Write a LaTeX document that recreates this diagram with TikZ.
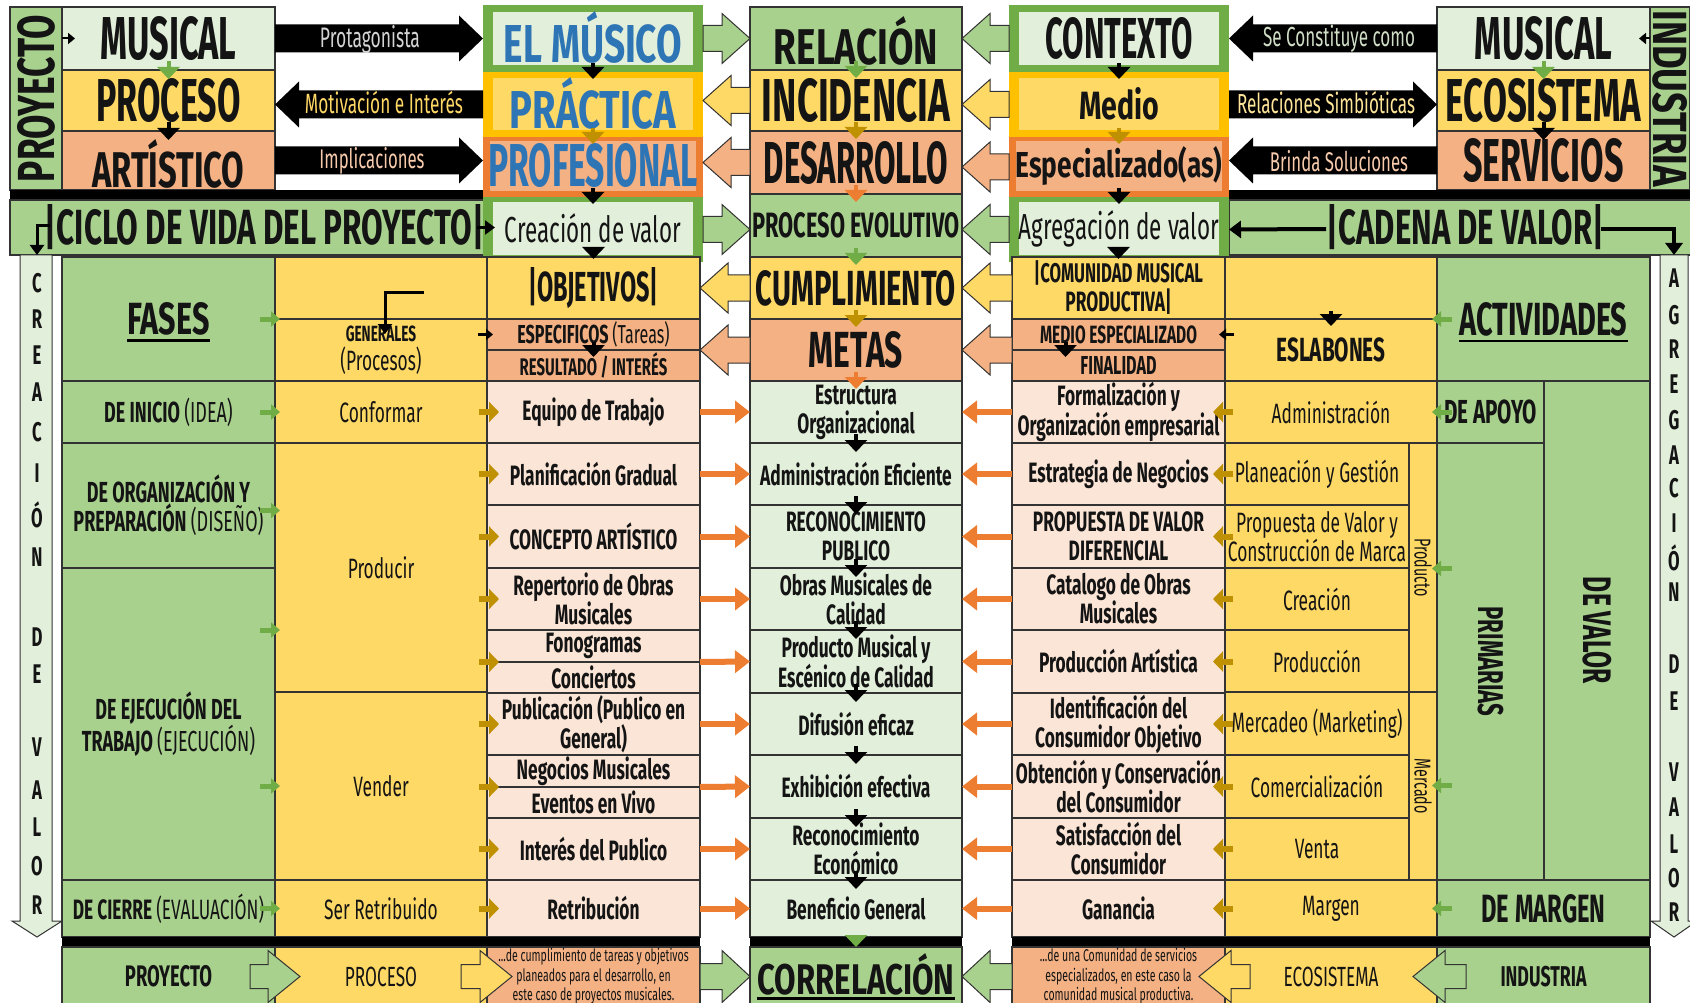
\documentclass[tikz,border=0pt]{standalone}
\usepackage{fontspec}
\usepackage{graphicx}
\setmainfont{Fira Sans}
\newfontfamily\cf{Fira Sans}[FakeStretch=0.62]
\newfontfamily\hd{Fira Sans}[FakeStretch=0.55]
\usetikzlibrary{arrows.meta,calc}
\definecolor{gr}{HTML}{A9D18E}
\definecolor{lgr}{HTML}{E2EFDA}
\definecolor{yl}{HTML}{FFD966}
\definecolor{sal}{HTML}{F4B183}
\definecolor{lpk}{HTML}{FBE5D6}
\definecolor{dgr}{HTML}{70AD47}
\definecolor{org}{HTML}{ED7D31}
\definecolor{gold}{HTML}{FFC000}
\definecolor{olv}{HTML}{BF9000}
\definecolor{blu}{HTML}{2E75B6}
\definecolor{bd}{HTML}{333333}
\definecolor{tk}{HTML}{141414}
\definecolor{ca}{HTML}{D4D4D4}
\definecolor{cb}{HTML}{FFD966}
\definecolor{cc}{HTML}{F8CBAD}
\definecolor{cd}{HTML}{D0DEC6}
\definecolor{ce}{HTML}{FFE699}
\newcommand\fw[2]{\resizebox{#1pt}{!}{#2}}
\newcommand\fwh[3]{\resizebox{#1pt}{#2pt}{#3}}
\tikzset{
 cell/.style={draw=bd,line width=1.1pt,inner sep=0pt,outer sep=0pt},
 nob/.style={inner sep=0pt,outer sep=0pt},
 txt/.style={align=center,inner sep=0pt,outer sep=0pt,text=tk},
 ct/.style={font=\cf\bfseries\fontsize{28}{29}\selectfont},
 cr/.style={font=\cf\fontsize{28}{29}\selectfont},
 cg/.style={font=\cf\bfseries\fontsize{29}{29}\selectfont},
 gar/.style={fill=gr,draw=bd,line width=1pt},
 yar/.style={fill=yl,draw=bd,line width=1pt},
 sar/.style={fill=sal,draw=bd,line width=1pt},
 kar/.style={fill=black},
 dn/.style={draw=#1,line width=4pt,-{Triangle[width=22pt,length=12pt]}},
 oar/.style={draw=org,line width=6pt,-{Triangle[width=22pt,length=15pt]}},
 olar/.style={draw=olv,line width=6pt,-{Triangle[width=20pt,length=10pt]}},
 gsar/.style={draw=dgr,line width=5pt,-{Triangle[width=15pt,length=9pt]}},
 sk/.style={draw=black,line width=2pt,-{Triangle[width=11pt,length=7pt]}},
 bkt/.style={draw=black,line width=3pt,-{Triangle[width=14pt,length=10pt]}},
 bkf/.style={draw=black,line width=4pt,-{Triangle[width=17pt,length=12pt]}},
 stl/.style={inner sep=0pt,text=tk,font=\cf\bfseries\fontsize{27}{27}\selectfont},
 lbl/.style={inner sep=0pt,outer sep=0pt},
}
\newcommand\bx[8][]{%
 \node[#7,anchor=north west,minimum width={#5pt-#3pt},minimum height={#6pt-#4pt}] (#2) at (#3,#4) {};%
 \node[txt,#1] (#2t) at (#2.center) {#8};}
\newcommand\blk[6]{%
 \path[#1] let \p1=(#2), \p2=(#3) in
  ({\x1},{\y1+#5pt}) -- ({\x2-(#6pt)},{\y1+#5pt}) -- ({\x2-(#6pt)},{\y1+#4pt}) -- ({\x2},{\y1})
  -- ({\x2-(#6pt)},{\y1-#4pt}) -- ({\x2-(#6pt)},{\y1-#5pt}) -- ({\x1},{\y1-#5pt}) -- cycle;}
\begin{document}
\begin{tikzpicture}[x=1pt,y=-1pt]
\useasboundingbox (0,0) rectangle (1690,1003);
\fill[white] (0,0) rectangle (1690,1003);

% ===== top left =====
\bx[rotate=90]{proy}{10}{7}{62}{190}{cell,fill=gr}{\fwh{167}{37}{\cf\bfseries PROYECTO}}
\bx{musL}{62}{7}{275}{70}{cell,fill=lgr}{\fwh{136}{43}{\hd\bfseries MUSICAL}}
\bx{procL}{62}{70}{275}{131}{cell,fill=yl}{\fwh{144}{43}{\hd\bfseries PROCESO}}
\bx[yshift=-3pt]{artL}{62}{131}{275}{190}{cell,fill=sal}{\fwh{152}{48}{\hd\bfseries ARTÍSTICO}}
\bx{barTL}{10}{190}{483}{200}{nob,fill=black}{}
\bx[xshift=16pt]{ciclo}{10}{200}{487}{255}{cell,fill=gr}{\fwh{439}{40}{\hd\bfseries |CICLO DE VIDA DEL PROYECTO|}}

% ===== top right =====
\bx{musR}{1437}{7}{1650}{70}{cell,fill=lgr}{\fwh{137}{43}{\hd\bfseries MUSICAL}}
\bx{ecoR}{1437}{70}{1650}{131}{cell,fill=yl}{\fwh{195}{43}{\hd\bfseries ECOSISTEMA}}
\bx{serR}{1437}{131}{1650}{190}{cell,fill=sal}{\fwh{160}{43}{\hd\bfseries SERVICIOS}}
\bx[rotate=-90]{indu}{1650}{7}{1690}{190}{cell,fill=gr}{\fwh{176}{34}{\cf\bfseries INDUSTRIA}}
\bx{barTR}{1229}{190}{1702}{200}{nob,fill=black}{}
\bx{cad}{1229}{200}{1702}{255}{cell,fill=gr}{\fwh{277}{40}{\hd\bfseries |CADENA DE VALOR|}}

% ===== centre-left column (framed) =====
\bx{musF}{483}{5}{703}{72}{nob,fill=dgr}{}
\bx[text=blu,yshift=1pt]{musI}{493}{12}{693}{65}{nob,fill=lgr}{\fwh{178}{51}{\hd\bfseries EL MÚSICO}}
\bx{prcF}{483}{72}{703}{137}{nob,fill=gold}{}
\bx[text=blu,yshift=1pt]{prcI}{493}{78}{693}{130}{nob,fill=yl}{\fwh{166}{51}{\hd\bfseries PRÁCTICA}}
\bx{prfF}{483}{137}{703}{197}{nob,fill=org}{}
\bx[text=blu]{prfI}{490}{141}{696}{191}{nob,fill=sal}{\fwh{209}{43}{\hd\bfseries PROFESIONAL}}
\bx{creF}{483}{197}{703}{262}{nob,fill=dgr}{}
\bx{creI}{493}{202}{693}{255}{nob,fill=lgr}{\fw{176}{\cf Creación de valor}}

% ===== centre column top =====
\bx[yshift=-2pt]{rel}{750}{7}{962}{70}{cell,fill=gr}{\fwh{164}{48}{\hd\bfseries RELACIÓN}}
\bx{inc}{750}{70}{962}{131}{cell,fill=yl}{\fwh{188}{43}{\hd\bfseries INCIDENCIA}}
\bx{des}{750}{131}{962}{194}{cell,fill=sal}{\fwh{184}{42}{\hd\bfseries DESARROLLO}}
\bx{pev}{750}{194}{962}{257}{cell,fill=gr}{\fwh{207}{25}{\hd\bfseries PROCESO EVOLUTIVO}}

% ===== centre-right column (framed) =====
\bx{conF}{1009}{5}{1229}{72}{nob,fill=dgr}{}
\bx{conI}{1019}{12}{1219}{65}{nob,fill=lgr}{\fwh{147}{41}{\hd\bfseries CONTEXTO}}
\bx{medF}{1009}{72}{1229}{137}{nob,fill=gold}{}
\bx{medI}{1019}{78}{1219}{130}{nob,fill=yl}{\fwh{80}{32}{\hd\bfseries Medio}}
\bx{espF}{1009}{137}{1229}{197}{nob,fill=org}{}
\bx{espI}{1016}{141}{1222}{191}{nob,fill=sal}{\fwh{207}{31}{\hd\bfseries Especializado(as)}}
\bx{agrF}{1009}{197}{1229}{262}{nob,fill=dgr}{}
\bx{agrI}{1019}{202}{1219}{255}{nob,fill=lgr}{\fw{200}{\cf Agregación de valor}}

% ===== strips =====
\path[draw=bd,fill=lgr,line width=1pt] (20,255) -- (52,255) -- (52,921) -- (62,921) -- (37,937) -- (12,921) -- (20,921) -- cycle;
\coordinate (creaTop) at (37,255);
\foreach \l/\yy [count=\i] in {C/283,R/319,E/355,A/392,C/432,I/473,Ó/515,N/557,D/637,E/674,V/747,A/790,L/827,O/866,R/905}
  \node[stl] (cl\i) at (37,\yy) {\l};
\path[draw=bd,fill=lgr,line width=1pt] (1660,255) -- (1688,255) -- (1688,921) -- (1697,921) -- (1674,937) -- (1651,921) -- (1660,921) -- cycle;
\coordinate (agTop) at (1674,255);
\foreach \l/\yy [count=\i] in {A/278,G/315,R/349,E/384,G/420,A/455,C/488,I/523,Ó/558,N/592,D/664,E/701,V/772,A/807,L/844,O/878,R/912}
  \node[stl] (al\i) at (1674,\yy) {\l};

% ===== lower left: fases =====
\bx{fases}{62}{257}{275}{381}{cell,fill=gr}{\fwh{82}{32}{\hd\bfseries FASES}}
\bx[cg]{ini}{62}{381}{275}{443}{cell,fill=gr}{DE INICIO \mdseries(IDEA)}
\bx[cg]{orgz}{62}{443}{275}{568}{cell,fill=gr}{DE ORGANIZACIÓN Y\\PREPARACIÓN \mdseries(DISEÑO)}
\bx[cg]{ejec}{62}{568}{275}{880}{cell,fill=gr}{DE EJECUCIÓN DEL\\TRABAJO \mdseries(EJECUCIÓN)}
\bx[ct]{cier}{62}{880}{275}{937}{cell,fill=gr}{DE CIERRE \mdseries(EVALUACIÓN)}

% yellow
\bx{ytop}{275}{257}{487}{319}{cell,fill=yl}{}
\bx[ct]{gen}{275}{319}{487}{381}{cell,fill=yl}{\fontsize{22}{28}\selectfont GENERALES\\\mdseries(Procesos)}
\bx[cr]{conf}{275}{381}{487}{443}{cell,fill=yl}{Conformar}
\bx[cr]{prodc}{275}{443}{487}{692}{cell,fill=yl}{Producir}
\bx[cr]{vend}{275}{692}{487}{880}{cell,fill=yl}{Vender}
\bx[cr]{seret}{275}{880}{487}{937}{cell,fill=yl}{Ser Retribuido}

% orange (left)
\bx{obj}{487}{257}{700}{319}{cell,fill=yl}{\fwh{130}{34}{\hd\bfseries |OBJETIVOS|}}
\bx[ct]{espc}{487}{319}{700}{350}{cell,fill=sal}{\fontsize{26}{26}\selectfont ESPECIFICOS \mdseries(Tareas)}
\bx[ct]{resu}{487}{350}{700}{381}{cell,fill=sal}{\fontsize{24}{24}\selectfont RESULTADO / INTERÉS}
\bx[ct]{equ}{487}{381}{700}{443}{cell,fill=lpk}{Equipo de Trabajo}
\bx[ct]{plan}{487}{443}{700}{505}{cell,fill=lpk}{Planificación Gradual}
\bx[ct]{conc}{487}{505}{700}{568}{cell,fill=lpk}{CONCEPTO ARTÍSTICO}
\bx[ct]{rep}{487}{568}{700}{630}{cell,fill=lpk}{Repertorio de Obras\\Musicales}
\bx[ct]{fono}{487}{630}{700}{662}{cell,fill=lpk}{Fonogramas}
\bx[ct]{conci}{487}{662}{700}{693}{cell,fill=lpk}{Conciertos}
\bx[ct]{pub}{487}{693}{700}{755}{cell,fill=lpk}{Publicación (Publico en\\General)}
\bx[ct]{neg}{487}{755}{700}{787}{cell,fill=lpk}{Negocios Musicales}
\bx[ct]{evt}{487}{787}{700}{818}{cell,fill=lpk}{Eventos en Vivo}
\bx[ct]{intp}{487}{818}{700}{880}{cell,fill=lpk}{Interés del Publico}
\bx[ct]{retr}{487}{880}{700}{937}{cell,fill=lpk}{Retribución}

% centre
\bx{cump}{750}{257}{962}{319}{cell,fill=yl}{\fwh{200}{35}{\hd\bfseries CUMPLIMIENTO}}
\bx{metas}{750}{319}{962}{381}{cell,fill=sal}{\fwh{94}{36}{\hd\bfseries METAS}}
\bx[ct]{estr}{750}{381}{962}{443}{cell,fill=lgr}{Estructura\\Organizacional}
\bx[ct]{adme}{750}{443}{962}{505}{cell,fill=lgr}{Administración Eficiente}
\bx[ct]{recp}{750}{505}{962}{568}{cell,fill=lgr}{RECONOCIMIENTO\\PUBLICO}
\bx[ct]{obrc}{750}{568}{962}{630}{cell,fill=lgr}{Obras Musicales de\\Calidad}
\bx[ct]{prmu}{750}{630}{962}{693}{cell,fill=lgr}{Producto Musical y\\Escénico de Calidad}
\bx[ct]{dife}{750}{693}{962}{755}{cell,fill=lgr}{Difusión eficaz}
\bx[ct]{exhi}{750}{755}{962}{818}{cell,fill=lgr}{Exhibición efectiva}
\bx[ct]{reco}{750}{818}{962}{880}{cell,fill=lgr}{Reconocimiento\\Económico}
\bx[ct]{bene}{750}{880}{962}{937}{cell,fill=lgr}{Beneficio General}

% orange (right)
\bx[ct]{comu}{1012}{257}{1225}{319}{cell,fill=yl}{\fontsize{27}{31}\selectfont |COMUNIDAD MUSICAL\\PRODUCTIVA|}
\bx[ct]{medi}{1012}{319}{1225}{350}{cell,fill=sal}{\fontsize{25}{25}\selectfont MEDIO ESPECIALIZADO}
\bx[ct]{fina}{1012}{350}{1225}{381}{cell,fill=sal}{\fontsize{26}{26}\selectfont FINALIDAD}
\bx[ct]{form}{1012}{381}{1225}{443}{cell,fill=lpk}{Formalización y\\Organización empresarial}
\bx[ct]{estn}{1012}{443}{1225}{505}{cell,fill=lpk}{Estrategia de Negocios}
\bx[ct]{prop}{1012}{505}{1225}{568}{cell,fill=lpk}{PROPUESTA DE VALOR\\DIFERENCIAL}
\bx[ct]{cata}{1012}{568}{1225}{630}{cell,fill=lpk}{Catalogo de Obras\\Musicales}
\bx[ct]{proa}{1012}{630}{1225}{693}{cell,fill=lpk}{Producción Artística}
\bx[ct]{iden}{1012}{693}{1225}{755}{cell,fill=lpk}{Identificación del\\Consumidor Objetivo}
\bx[ct]{obte}{1012}{755}{1225}{818}{cell,fill=lpk}{Obtención y Conservación\\del Consumidor}
\bx[ct]{sati}{1012}{818}{1225}{880}{cell,fill=lpk}{Satisfacción del\\Consumidor}
\bx[ct]{gana}{1012}{880}{1225}{937}{cell,fill=lpk}{Ganancia}

% yellow (right)
\bx{ytopR}{1225}{257}{1437}{319}{cell,fill=yl}{}
\bx{esla}{1225}{319}{1437}{381}{cell,fill=yl}{\fw{109}{\cf\bfseries ESLABONES}}
\bx[cr]{admi}{1225}{381}{1437}{443}{cell,fill=yl}{Administración}
\bx[cr]{plag}{1225}{443}{1409}{505}{cell,fill=yl}{Planeación y Gestión}
\bx[cr]{prvc}{1225}{505}{1409}{568}{cell,fill=yl}{Propuesta de Valor y\\Construcción de Marca}
\bx[cr]{crea}{1225}{568}{1409}{630}{cell,fill=yl}{Creación}
\bx[cr]{prdn}{1225}{630}{1409}{692}{cell,fill=yl}{Producción}
\bx[cr]{merc}{1225}{692}{1409}{755}{cell,fill=yl}{Mercadeo (Marketing)}
\bx[cr]{come}{1225}{755}{1409}{818}{cell,fill=yl}{Comercialización}
\bx[cr]{vent}{1225}{818}{1409}{880}{cell,fill=yl}{Venta}
\bx[cr]{marg}{1225}{880}{1437}{937}{cell,fill=yl}{Margen}
\bx[cr,rotate=-90]{prdo}{1409}{443}{1437}{692}{cell,fill=yl}{\fontsize{23}{23}\selectfont Producto}
\bx[cr,rotate=-90]{mrcd}{1409}{692}{1437}{880}{cell,fill=yl}{\fontsize{23}{23}\selectfont Mercado}

% green (right)
\bx{acti}{1437}{257}{1650}{381}{cell,fill=gr}{\fwh{168}{33}{\hd\bfseries ACTIVIDADES}}
\bx{apoy}{1437}{381}{1544}{443}{cell,fill=gr}{\fw{93}{\cf\bfseries DE APOYO}}
\bx[rotate=-90]{prim}{1437}{443}{1544}{880}{cell,fill=gr}{\fw{110}{\cf\bfseries PRIMARIAS}}
\bx[rotate=-90]{dval}{1544}{381}{1650}{880}{cell,fill=gr}{\fw{107}{\cf\bfseries DE VALOR}}
\bx{dmar}{1437}{880}{1650}{937}{cell,fill=gr}{\fwh{124}{28}{\hd\bfseries DE MARGEN}}

% underlines
\draw[line width=2.5pt] ([yshift=-5pt]fasest.south west) -- ([yshift=-5pt]fasest.south east);
\draw[line width=2.5pt] ([yshift=-5pt]actit.south west) -- ([yshift=-5pt]actit.south east);

% ===== bottom bars and row =====
\bx{barBL}{62}{937}{700}{947}{nob,fill=black}{}
\bx{barBC}{750}{937}{962}{947}{nob,fill=black}{}
\bx{barBR}{1012}{937}{1650}{947}{nob,fill=black}{}
\bx{proyB}{62}{947}{275}{1006}{cell,fill=gr}{\fw{87}{\cf\bfseries PROYECTO}}
\bx{procB}{275}{947}{487}{1006}{cell,fill=yl}{\fw{72}{\cf PROCESO}}
\bx[font=\cf\fontsize{17}{19.5}\selectfont]{lbox}{487}{947}{700}{1006}{cell,fill=sal}{...de cumplimiento de tareas y objetivos\\planeados para el desarrollo, en\\este caso de proyectos musicales.}
\bx[yshift=2pt]{corr}{750}{947}{962}{1006}{cell,fill=gr}{\fwh{197}{41}{\hd\bfseries CORRELACIÓN}}
\bx[font=\cf\fontsize{17}{19.5}\selectfont]{rbox}{1012}{947}{1225}{1006}{cell,fill=sal}{...de una Comunidad de servicios\\especializados, en este caso la\\comunidad musical productiva.}
\bx{ecoB}{1225}{947}{1437}{1006}{cell,fill=yl}{\fw{95}{\cf ECOSISTEMA}}
\bx{indB}{1437}{947}{1650}{1006}{cell,fill=gr}{\fw{86}{\cf\bfseries INDUSTRIA}}
\draw[line width=2.5pt] ([yshift=-3pt]corrt.south west) -- ([yshift=-3pt]corrt.south east);

% ===== black labelled arrows =====
\blk{kar}{musL.east}{musF.west}{23}{14}{24}
\blk{kar}{prcF.west}{procL.east}{23}{14}{-24}
\blk{kar}{artL.east}{prfF.west}{23}{14}{24}
\blk{kar}{musR.west}{conF.east}{23}{14}{-24}
\blk{kar}{medF.east}{ecoR.west}{23}{14}{24}
\blk{kar}{serR.west}{espF.east}{23}{14}{-24}
\node[lbl,text=ca] (lb1) at (370,39) {\fw{100}{\cf Protagonista}};
\node[lbl,text=cb] (lb2) at (384,103) {\fw{158}{\cf Motivación e Interés}};
\node[lbl,text=cc] (lb3) at (372,161) {\fw{105}{\cf Implicaciones}};
\node[lbl,text=cd] (lb4) at (1339,39) {\fw{152}{\cf Se Constituye como}};
\node[lbl,text=ce] (lb5) at (1326,103) {\fw{178}{\cf Relaciones Simbióticas}};
\node[lbl,text=cc] (lb6) at (1339,161) {\fw{138}{\cf Brinda Soluciones}};

% ===== coloured block arrows =====
\blk{gar}{musF.east}{rel.west}{25}{13}{28}
\blk{yar}{inc.west}{prcF.east}{25}{13}{-28}
\blk{sar}{des.west}{prfF.east}{25}{13}{-28}
\blk{gar}{creF.east}{pev.west}{25}{13}{28}
\blk{gar}{conF.west}{rel.east}{25}{13}{-28}
\blk{yar}{medF.west}{inc.east}{25}{13}{-28}
\blk{sar}{espF.west}{des.east}{25}{13}{-28}
\blk{gar}{agrF.west}{pev.east}{25}{13}{-28}
\blk{yar}{cump.west}{obj.east}{25}{13}{-28}
\blk{sar}{metas.west}{espc.south east}{25}{13}{-28}
\blk{yar}{comu.west}{cump.east}{25}{13}{-28}
\blk{sar}{medi.south west}{metas.east}{25}{13}{-28}
\blk{gar}{lbox.east}{corr.west}{26}{13}{28}
\blk{gar}{rbox.west}{corr.east}{26}{13}{-28}
\blk{gar}{[xshift=-25pt]proyB.east}{[xshift=25pt]procB.west}{26}{12}{32}
\blk{yar}{[xshift=-26pt]procB.east}{[xshift=25pt]lbox.west}{26}{12}{32}
\blk{gar}{[xshift=29pt]indB.west}{[xshift=-24pt]ecoB.east}{26}{12}{-32}
\blk{yar}{[xshift=25pt]ecoB.west}{[xshift=-26pt]ecoB.west}{26}{12}{-32}

% ===== small arrows =====
\draw[sk] (musL.west) -- ([xshift=13pt]musL.west);
\draw[sk] (musR.east) -- ([xshift=-11pt]musR.east);
\draw[dn=dgr] ([yshift=9pt]procL.north) -- ([yshift=-9pt]procL.north);
\draw[dn=black] ([yshift=9pt]artL.north) -- ([yshift=-9pt]artL.north);
\draw[dn=dgr] ([yshift=9pt]ecoR.north) -- ([yshift=-9pt]ecoR.north);
\draw[dn=black] ([yshift=9pt]serR.north) -- ([yshift=-9pt]serR.north);
\draw[dn=black] ([yshift=9pt]prcF.north) -- ([yshift=-7pt]prcF.north);
\draw[dn=olv] ([yshift=9pt]prfF.north) -- ([yshift=-7pt]prfF.north);
\draw[dn=black] ([yshift=9pt]creF.north) -- ([yshift=-7pt]creF.north);
\draw[dn=black] ([yshift=10pt]obj.north) -- ([yshift=-2pt]obj.north);
\draw[dn=black] ([yshift=9pt]medF.north) -- ([yshift=-7pt]medF.north);
\draw[dn=olv] ([yshift=9pt]espF.north) -- ([yshift=-7pt]espF.north);
\draw[dn=black] ([yshift=9pt]agrF.north) -- ([yshift=-7pt]agrF.north);
\draw[dn=black] ([yshift=10pt]comu.north) -- ([yshift=-2pt]comu.north);
\draw[dn=dgr] ([yshift=9pt]inc.north) -- ([yshift=-8pt]inc.north);
\draw[dn=olv] ([yshift=9pt]des.north) -- ([yshift=-8pt]des.north);
\draw[dn=org] ([yshift=9pt]pev.north) -- ([yshift=-8pt]pev.north);
\draw[dn=dgr] ([yshift=9pt]cump.north) -- ([yshift=-8pt]cump.north);
\draw[dn=olv] ([yshift=9pt]metas.north) -- ([yshift=-8pt]metas.north);
\draw[dn=org] ([yshift=9pt]estr.north) -- ([yshift=-8pt]estr.north);
\foreach \n in {adme,recp,obrc,prmu,dife,exhi,reco,bene}
  \draw[dn=black] ([yshift=9pt]\n.north) -- ([yshift=-9pt]\n.north);
\draw[dn=dgr] ([yshift=12pt]corr.north) -- (corr.north);
\draw[dn=black] ([yshift=8pt]resu.north) -- ([yshift=-7pt]resu.north);
\draw[dn=black] ([xshift=-53pt,yshift=8pt]fina.north) -- ([xshift=-53pt,yshift=-7pt]fina.north);
\draw[dn=black] ([yshift=8pt]esla.north) -- ([yshift=-7pt]esla.north);
\draw[sk,line width=3pt] ([xshift=-9pt]espc.west) -- ([xshift=6pt]espc.west);
\draw[sk,line width=3pt] ([xshift=9pt]medi.east) -- ([xshift=-6pt]medi.east);
\coordinate (bendL) at (424,292);
\draw[bkt] (bendL) -| ([xshift=4pt,yshift=-15pt]gen.north);

% cycle / chain arrows
\draw[bkt] ([xshift=-10pt]ciclo.east) -- ([xshift=8pt]ciclo.east);
\coordinate (cicL) at (50,226);
\draw[bkt] (cicL) -| (creaTop);
\coordinate (cadL) at (1326,229);
\draw[bkf] (cadL) -- (agrF.east);
\coordinate (cadR) at (1601,229);
\draw[bkf] (cadR) -| (agTop);

% green arrows fases -> procesos
\draw[gsar] ([xshift=-15pt]fases.east) -- ([xshift=5pt]fases.east);
\draw[gsar] ([xshift=-15pt]ini.east) -- ([xshift=5pt]ini.east);
\draw[gsar] ([xshift=-15pt,yshift=-5pt]orgz.east) -- ([xshift=5pt,yshift=-5pt]orgz.east);
\draw[gsar] ([xshift=-15pt,yshift=94pt]ejec.east) -- ([xshift=5pt,yshift=94pt]ejec.east);
\draw[gsar] ([xshift=-15pt,yshift=-62pt]ejec.east) -- ([xshift=5pt,yshift=-62pt]ejec.east);
\draw[gsar] ([xshift=-15pt]cier.east) -- ([xshift=5pt]cier.east);
% green arrows actividades -> eslabones
\draw[gsar] ([xshift=15pt]acti.west) -- ([xshift=-5pt]acti.west);
\draw[gsar] ([xshift=15pt]apoy.west) -- ([xshift=-5pt]apoy.west);
\draw[gsar] ([xshift=15pt,yshift=93pt]prim.west) -- ([xshift=-5pt,yshift=93pt]prim.west);
\draw[gsar] ([xshift=15pt,yshift=-124pt]prim.west) -- ([xshift=-5pt,yshift=-124pt]prim.west);
\draw[gsar] ([xshift=15pt]dmar.west) -- ([xshift=-5pt]dmar.west);

% olive arrows
\foreach \n in {equ,plan,conc,rep,pub,intp,retr}
  \draw[olar] ([xshift=-8pt]\n.west) -- ([xshift=12pt]\n.west);
\draw[olar] ([xshift=-8pt]fono.south west) -- ([xshift=12pt]fono.south west);
\draw[olar] ([xshift=-8pt]neg.south west) -- ([xshift=12pt]neg.south west);
\foreach \n in {form,estn,prop,cata,proa,iden,obte,sati,gana}
  \draw[olar] ([xshift=8pt]\n.east) -- ([xshift=-12pt]\n.east);

% orange connectors
\draw[oar] (equ.east) -- (estr.west);
\draw[oar] (plan.east) -- (adme.west);
\draw[oar] (conc.east) -- (recp.west);
\draw[oar] (rep.east) -- (obrc.west);
\draw[oar] (fono.south east) -- (prmu.west);
\draw[oar] (pub.east) -- (dife.west);
\draw[oar] (neg.south east) -- (exhi.west);
\draw[oar] (intp.east) -- (reco.west);
\draw[oar] (retr.east) -- (bene.west);
\draw[oar] (form.west) -- (estr.east);
\draw[oar] (estn.west) -- (adme.east);
\draw[oar] (prop.west) -- (recp.east);
\draw[oar] (cata.west) -- (obrc.east);
\draw[oar] (proa.west) -- (prmu.east);
\draw[oar] (iden.west) -- (dife.east);
\draw[oar] (obte.west) -- (exhi.east);
\draw[oar] (sati.west) -- (reco.east);
\draw[oar] (gana.west) -- (bene.east);
\end{tikzpicture}
\end{document}
